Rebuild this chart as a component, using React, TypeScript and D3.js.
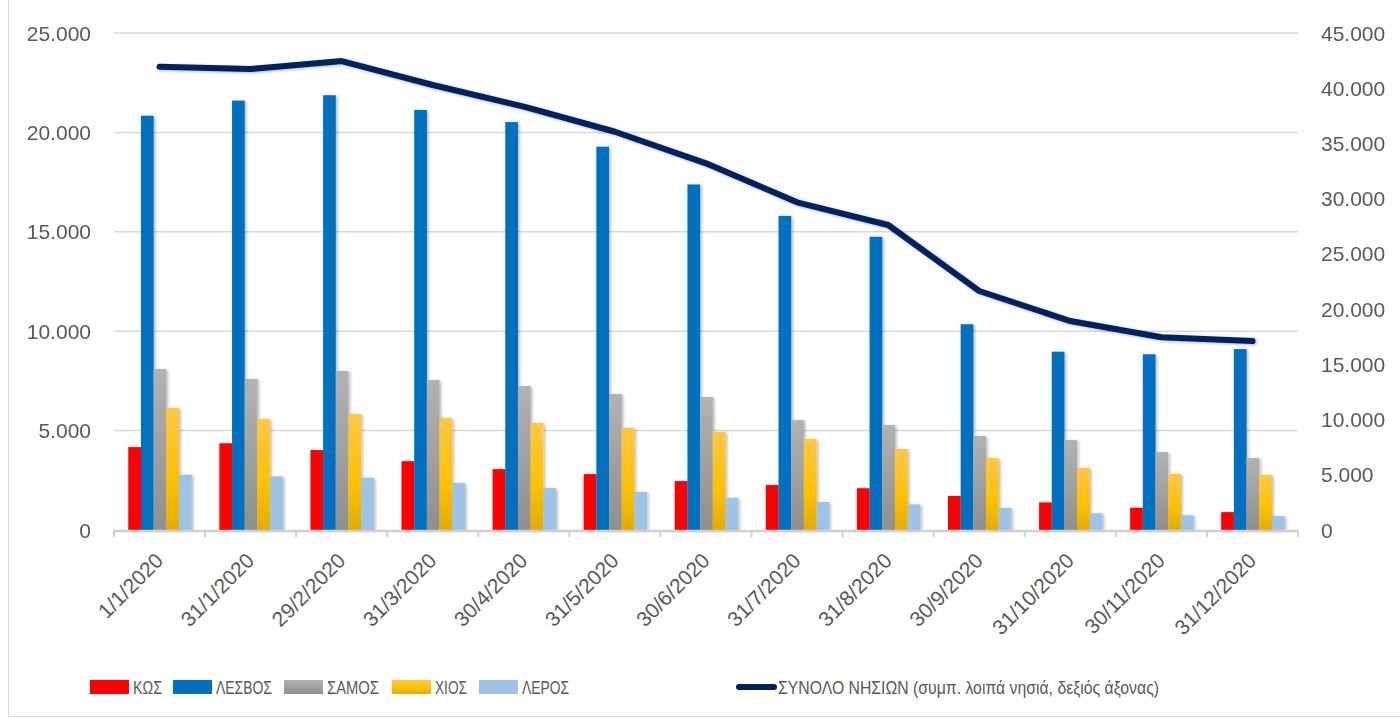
import React from "react";
import * as d3 from "d3";

const categories = ["1/1/2020","31/1/2020","29/2/2020","31/3/2020","30/4/2020","31/5/2020","30/6/2020","31/7/2020","31/8/2020","30/9/2020","31/10/2020","30/11/2020","31/12/2020"];
const kos = [4170, 4360, 4020, 3460, 3060, 2810, 2460, 2260, 2100, 1710, 1390, 1120, 900];
const lesvos = [20840, 21600, 21870, 21130, 20520, 19280, 17380, 15800, 14750, 10350, 8970, 8840, 9100];
const samos = [8100, 7600, 8000, 7550, 7240, 6840, 6690, 5530, 5280, 4730, 4530, 3920, 3620];
const chios = [6140, 5580, 5830, 5630, 5380, 5130, 4940, 4580, 4075, 3620, 3120, 2820, 2770];
const leros = [2780, 2700, 2630, 2360, 2110, 1910, 1625, 1410, 1290, 1107, 840, 740, 700];
const total = [41950, 41740, 42460, 40290, 38330, 36060, 33200, 29670, 27615, 21640, 18920, 17450, 17110];
const seriesNames = ["ΚΩΣ", "ΛΕΣΒΟΣ", "ΣΑΜΟΣ", "ΧΙΟΣ", "ΛΕΡΟΣ"];
const lineName = "ΣΥΝΟΛΟ ΝΗΣΙΩΝ (συμπ. λοιπά νησιά, δεξιός άξονας)";
const leftTicks = [0, 5000, 10000, 15000, 20000, 25000];
const rightTicks = [0, 5000, 10000, 15000, 20000, 25000, 30000, 35000, 40000, 45000];

const seriesValues = [kos, lesvos, samos, chios, leros];
const fills = ["#ff0000", "#0070c0", "url(#gGray)", "url(#gGold)", "#9dc3e6"];
// legend layout (pixels)
const legendX = [90, 173, 284, 392, 479];
const legendTextW = [29, 56, 52, 32, 47];
const lineLegendX = 736;
const lineLegendTextW = 381;

const W = 1400, H = 718;
const plotL = 114, plotR = 1298, plotT = 33, plotB = 530;
const axisFont = "'Liberation Sans', Arial, sans-serif";
const legendFont = "'Liberation Sans', Arial, sans-serif";
const textColor = "#595959";

const fmt = (v: number) => (v === 0 ? "0" : d3.format(",")(v).replace(/,/g, "."));

export default function App() {
  const x = d3.scaleBand<string>().domain(categories).range([plotL, plotR]).paddingInner(0).paddingOuter(0);
  const bw = x.bandwidth();
  const xs = d3.scaleBand<number>().domain(d3.range(5)).range([bw * 0.157, bw * 0.853]);
  const yL = d3.scaleLinear().domain([0, 25000]).range([plotB, plotT]);
  const yR = d3.scaleLinear().domain([0, 45000]).range([plotB, plotT]);
  const line = d3.line<number>()
    .x((_, i) => (x(categories[i]) as number) + bw / 2)
    .y((d) => yR(d));

  return (
    <svg width={W} height={H} style={{ position: "absolute", left: 0, top: 0, background: "#fff" }}>
      <defs>
        <linearGradient id="gGray" x1="0" y1="0" x2="0" y2="1">
          <stop offset="0" stopColor="#b2b2b2" />
          <stop offset="1" stopColor="#8f8f8f" />
        </linearGradient>
        <linearGradient id="gGold" x1="0" y1="0" x2="0" y2="1">
          <stop offset="0" stopColor="#ffc843" />
          <stop offset="0.6" stopColor="#ffc000" />
          <stop offset="1" stopColor="#e2ac00" />
        </linearGradient>
        <filter id="sh" x="-30%" y="-10%" width="160%" height="120%">
          <feDropShadow dx="1.5" dy="1" stdDeviation="1.8" floodColor="#000" floodOpacity="0.3" />
        </filter>
      </defs>
      <rect x={0} y={0} width={W} height={H} fill="#fff" />
      {/* chart border */}
      <line x1={8.5} y1={0} x2={8.5} y2={716} stroke="#d9d9d9" strokeWidth={1} />
      <line x1={8} y1={716.5} x2={W} y2={716.5} stroke="#d9d9d9" strokeWidth={1} />

      {/* gridlines */}
      {leftTicks.filter((t) => t > 0).map((t) => (
        <line key={t} x1={plotL} x2={plotR} y1={yL(t)} y2={yL(t)} stroke="#d9d9d9" strokeWidth={1.5} />
      ))}

      {/* bars */}
      <g filter="url(#sh)">
        {categories.map((c, i) => (
          <g key={c} transform={`translate(${x(c)},0)`}>
            {seriesValues.map((s, k) => (
              <rect key={k} x={xs(k)} width={xs.bandwidth()} y={yL(s[i])} height={plotB - yL(s[i])} fill={fills[k]} />
            ))}
          </g>
        ))}
      </g>

      {/* x axis */}
      <line x1={plotL} x2={plotR} y1={plotB + 1} y2={plotB + 1} stroke="#d0d0d0" strokeWidth={2.5} />
      {categories.concat([""]).map((c, i) => {
        const xx = plotL + i * bw;
        return <line key={"t" + i} x1={xx} x2={xx} y1={plotB} y2={plotB + 7} stroke="#d0d0d0" strokeWidth={2} />;
      })}

      {/* line */}
      <path d={line(total) as string} fill="none" stroke="#002060" strokeWidth={6} strokeLinejoin="round" strokeLinecap="round" filter="url(#sh)" />

      {/* left labels */}
      {leftTicks.map((t) => (
        <text key={"l" + t} x={91} y={yL(t)} dy="0.36em" textAnchor="end" fontFamily={axisFont} fontSize={21} fill={textColor}>{fmt(t)}</text>
      ))}
      {/* right labels */}
      {rightTicks.map((t) => (
        <text key={"r" + t} x={1321} y={yR(t)} dy="0.36em" textAnchor="start" fontFamily={axisFont} fontSize={21} fill={textColor}>{fmt(t)}</text>
      ))}
      {/* category labels */}
      {categories.map((c) => {
        const cx = (x(c) as number) + bw / 2 + 5;
        const cy = 562;
        return (
          <text key={"c" + c} x={cx} y={cy} transform={`rotate(-45 ${cx} ${cy})`} textAnchor="end" fontFamily={axisFont} fontSize={21} fill={textColor}>{c}</text>
        );
      })}

      {/* legend */}
      {seriesNames.map((n, k) => (
        <g key={n}>
          <rect x={legendX[k]} y={680} width={39} height={14} fill={fills[k]} />
          <text x={legendX[k] + 43} y={694} fontFamily={legendFont} fontSize={18.5} fill={textColor} textLength={legendTextW[k]} lengthAdjust="spacingAndGlyphs">{n}</text>
        </g>
      ))}
      <line x1={lineLegendX + 3} x2={lineLegendX + 38} y1={687} y2={687} stroke="#002060" strokeWidth={6} strokeLinecap="round" />
      <text x={lineLegendX + 42} y={694} fontFamily={legendFont} fontSize={18.5} fill={textColor} textLength={lineLegendTextW} lengthAdjust="spacingAndGlyphs">{lineName}</text>
    </svg>
  );
}
